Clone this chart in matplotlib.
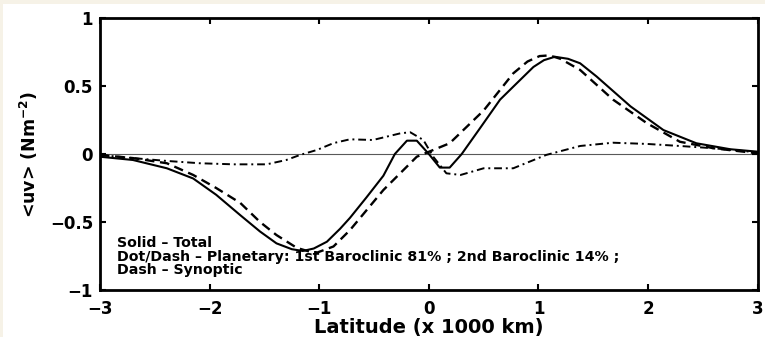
import matplotlib.pyplot as plt
from matplotlib.patches import Rectangle

# Latitude (x 1000 km) and momentum flux <uv> for each component
lat_total = [-3.0, -2.70, -2.39, -2.15, -1.94, -1.72, -1.54, -1.39, -1.25, -1.15,
             -1.05, -0.93, -0.81, -0.72, -0.57, -0.415, -0.31, -0.20, -0.11, 0.0,
             0.10, 0.19, 0.30, 0.467, 0.65, 0.77, 0.954, 1.05, 1.15, 1.27, 1.38, 1.53,
             1.84, 2.14, 2.44, 2.75, 3.0]
uv_total = [-0.02, -0.044, -0.105, -0.18, -0.30, -0.45, -0.57, -0.657, -0.70, -0.713,
            -0.695, -0.645, -0.55, -0.47, -0.32, -0.16, 0.0, 0.098, 0.098, 0.0,
            -0.10, -0.10, 0.0, 0.19, 0.40, 0.495, 0.64, 0.69, 0.715, 0.70, 0.667, 0.57,
            0.35, 0.176, 0.079, 0.035, 0.017]

lat_synoptic = [-3.0, -2.70, -2.39, -2.15, -1.94, -1.72, -1.54, -1.39, -1.205, -1.10,
                -1.02, -0.87, -0.72, -0.415, -0.11, 0.19, 0.50, 0.77, 0.90, 1.01, 1.10,
                1.20, 1.38, 1.68, 1.99, 2.29, 2.60, 3.0]
uv_synoptic = [-0.007, -0.03, -0.068, -0.154, -0.25, -0.36, -0.50, -0.596, -0.69, -0.715,
               -0.725, -0.68, -0.56, -0.265, -0.02, 0.079, 0.32, 0.593, 0.68, 0.72, 0.725,
               0.70, 0.618, 0.40, 0.226, 0.09, 0.042, 0.005]

lat_planetary = [-3.0, -2.70, -2.39, -2.09, -1.78, -1.48, -1.30, -1.175, -1.02, -0.87,
                 -0.72, -0.51, -0.26, -0.17, -0.05, 0.04, 0.16, 0.29, 0.50, 0.77,
                 1.07, 1.38, 1.68, 1.99, 2.29, 2.60, 3.0]
uv_planetary = [-0.007, -0.03, -0.051, -0.068, -0.076, -0.076, -0.044, -0.007, 0.03, 0.08,
                0.108, 0.103, 0.152, 0.16, 0.103, -0.02, -0.142, -0.154, -0.105, -0.105,
                -0.007, 0.059, 0.083, 0.074, 0.059, 0.042, 0.012]

x_ticks = [-3, -2, -1, 0, 1, 2, 3]
y_ticks = [-1, -0.5, 0, 0.5, 1]
y_ticklabels = ['\u22121', '\u22120.5', '0', '0.5', '1']
x_ticklabels = ['\u22123', '\u22122', '\u22121', '0', '1', '2', '3']

legend_lines = ['Solid \u2013 Total',
                'Dot/Dash \u2013 Planetary: 1st Baroclinic 81% ; 2nd Baroclinic 14% ;',
                'Dash \u2013 Synoptic']

plt.rcParams['font.family'] = ['DejaVu Sans']
plt.rcParams['font.weight'] = 'bold'

fig = plt.figure(figsize=(7.65, 3.37), dpi=100, facecolor='white')
# thin cream margin along the top and left edges
fig.patches.append(Rectangle((0, 333 / 337), 1, 4 / 337, transform=fig.transFigure,
                             facecolor='#f6f2e7', edgecolor='none', zorder=0))
fig.patches.append(Rectangle((0, 0), 3 / 765, 1, transform=fig.transFigure,
                             facecolor='#f6f2e7', edgecolor='none', zorder=0))

ax = fig.add_axes([100 / 765, 47 / 337, 657.7 / 765, 272 / 337])

ax.axhline(0, color='0.35', lw=0.8, zorder=1)
ax.plot(lat_total, uv_total, color='black', lw=1.5, zorder=3)
ax.plot(lat_synoptic, uv_synoptic, color='black', lw=1.7, dashes=(4, 2.4), zorder=3)
ax.plot(lat_planetary, uv_planetary, color='black', lw=1.4, dashes=(4, 2, 1, 2), zorder=3)

ax.set_xlim(-3, 3)
ax.set_ylim(-1, 1)
ax.set_xticks(x_ticks)
ax.set_xticklabels(x_ticklabels)
ax.set_yticks(y_ticks)
ax.set_yticklabels(y_ticklabels)
ax.tick_params(direction='in', top=True, right=True, length=4, width=1.5,
               labelsize=12, pad=5)
ax.tick_params(axis='x', pad=7)
for s in ax.spines.values():
    s.set_linewidth(2)

ax.set_xlabel('Latitude (x 1000 km)', fontsize=14, fontweight='bold', labelpad=0.5)
ax.set_ylabel('<uv> (Nm$^{\\mathbf{-2}}$)', fontsize=12.5, fontweight='bold', labelpad=7)

for k, line in enumerate(legend_lines):
    ax.text(-2.842, -0.684 - 0.101 * k, line, fontsize=10.2, fontweight='bold',
            va='baseline', ha='left')

fig.savefig('out.png', dpi=100)
